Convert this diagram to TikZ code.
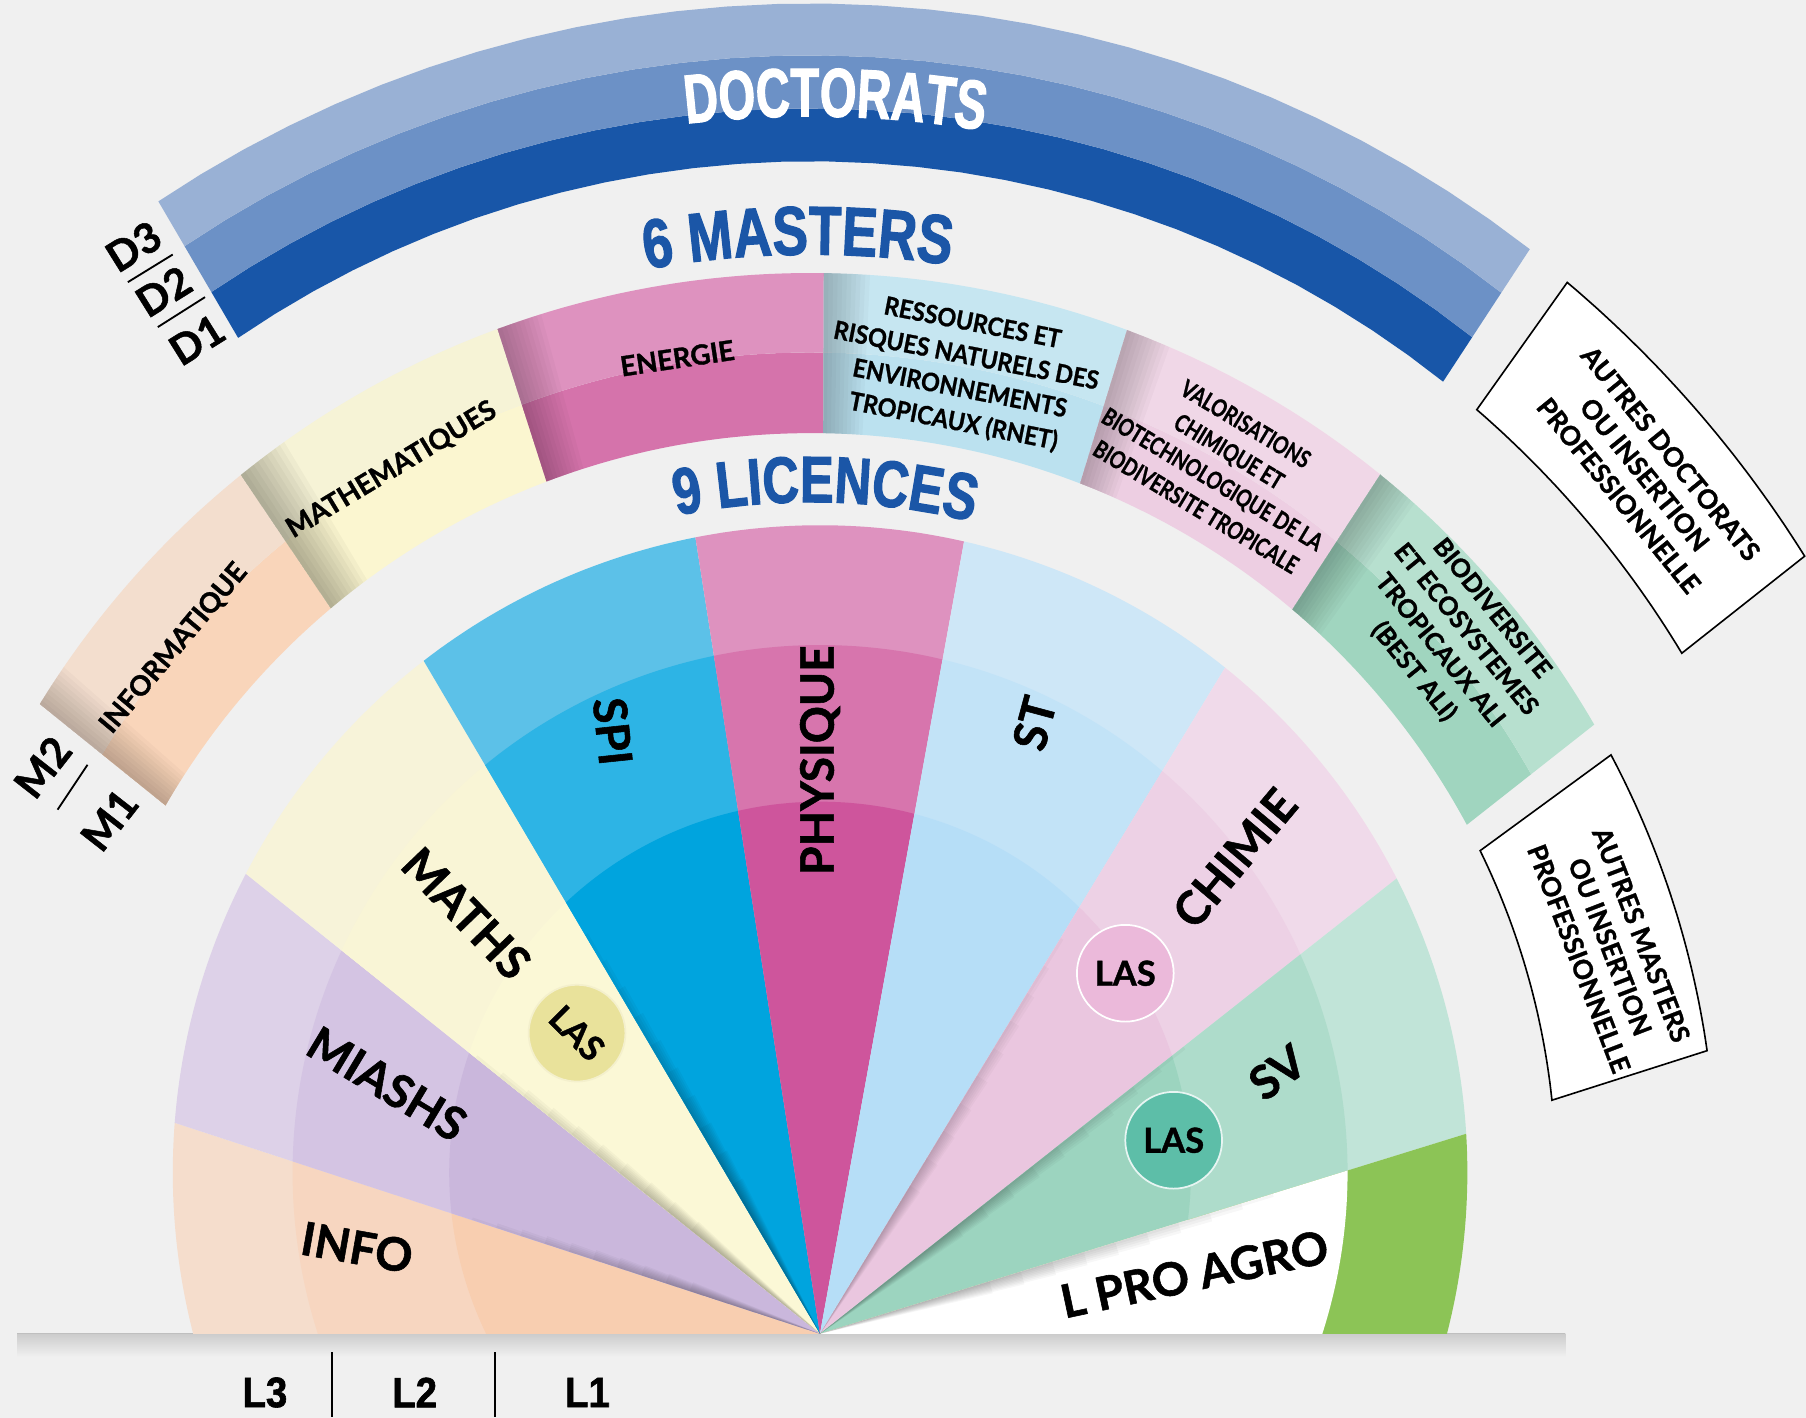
\documentclass[tikz,border=0pt]{standalone}
\usepackage{fontspec}
\setmainfont{Lato}[BoldFeatures={FakeBold=1.2}]
\newfontfamily\condA{Liberation Sans}[FakeStretch=0.68, BoldFeatures={FakeBold=1.6}]
\newfontfamily\condB{Liberation Sans}[FakeStretch=0.77, BoldFeatures={FakeBold=1.6}]
\newfontfamily\condC{Liberation Sans}[FakeStretch=0.9, BoldFeatures={FakeBold=1.4}]
\newfontfamily\mfont{Lato}[FakeStretch=0.92, BoldFeatures={FakeBold=1}]
\newfontfamily\vfont{Lato}[FakeStretch=0.78, BoldFeatures={FakeBold=1}]
\usetikzlibrary{decorations.text}

\definecolor{bg}{RGB}{240,240,240}
\definecolor{dOne}{RGB}{24,86,168}
\definecolor{dTwo}{RGB}{108,145,198}
\definecolor{dThree}{RGB}{153,177,213}
\definecolor{tblue}{RGB}{27,86,167}
% masters
\definecolor{infoMa}{RGB}{249,213,186}\definecolor{infoMb}{RGB}{243,222,206}
\definecolor{mathMa}{RGB}{251,246,208}\definecolor{mathMb}{RGB}{246,243,214}
\definecolor{enerMa}{RGB}{213,115,171}\definecolor{enerMb}{RGB}{222,146,191}
\definecolor{rnetMa}{RGB}{187,225,239}\definecolor{rnetMb}{RGB}{198,230,241}
\definecolor{valoMa}{RGB}{237,206,226}\definecolor{valoMb}{RGB}{240,215,231}
\definecolor{bestMa}{RGB}{160,213,191}\definecolor{bestMb}{RGB}{183,224,207}
% licences
\definecolor{infoA}{RGB}{248,206,176}\definecolor{infoB}{RGB}{247,214,192}\definecolor{infoC}{RGB}{245,221,204}
\definecolor{miaA}{RGB}{202,183,220}\definecolor{miaB}{RGB}{212,196,227}\definecolor{miaC}{RGB}{221,209,232}
\definecolor{matA}{RGB}{251,248,214}\definecolor{matB}{RGB}{249,245,214}\definecolor{matC}{RGB}{247,243,217}
\definecolor{spiA}{RGB}{0,164,222}\definecolor{spiB}{RGB}{45,180,229}\definecolor{spiC}{RGB}{92,193,232}
\definecolor{phyA}{RGB}{206,85,156}\definecolor{phyB}{RGB}{215,117,173}\definecolor{phyC}{RGB}{222,146,191}
\definecolor{stA}{RGB}{182,222,247}\definecolor{stB}{RGB}{194,227,247}\definecolor{stC}{RGB}{206,231,247}
\definecolor{chiA}{RGB}{234,198,223}\definecolor{chiB}{RGB}{237,209,229}\definecolor{chiC}{RGB}{240,218,234}
\definecolor{svA}{RGB}{156,212,191}\definecolor{svB}{RGB}{174,220,203}\definecolor{svC}{RGB}{193,228,216}
\definecolor{lproC}{RGB}{140,196,86}
\definecolor{lasY}{RGB}{233,226,155}
\definecolor{lasP}{RGB}{235,185,218}
\definecolor{lasG}{RGB}{93,190,168}

% distance from the apex, along the ray at angle #1, to the circle of radius #2 centred at (-8,135)
\pgfmathdeclarefunction{rr}{2}{%
  \begingroup
  \pgfmathparse{-0.08*cos(#1)+1.35*sin(#1)}\let\rrca\pgfmathresult
  \pgfmathparse{100*(\rrca+sqrt((#2/100)^2-1.8289+\rrca*\rrca))}%
  \pgfmathsmuggle\pgfmathresult
  \endgroup}
% same for the licence fan, circles centred at (0,140)
\pgfmathdeclarefunction{rf}{2}{%
  \begingroup
  \pgfmathparse{1.4*sin(#1)}\let\rrca\pgfmathresult
  \pgfmathparse{100*(\rrca+sqrt((#2/100)^2-1.96+\rrca*\rrca))}%
  \pgfmathsmuggle\pgfmathresult
  \endgroup}

\newcommand\ringsec[5]{\fill[#5] plot[domain=#1:#2,samples=30] (\x:{rr(\x,#4)}) -- plot[domain=#2:#1,samples=30] (\x:{rr(\x,#3)}) -- cycle;}
\newcommand\ringbox[4]{\filldraw[fill=white,draw=black,line width=1.4pt,line join=miter] plot[domain=#1:#2,samples=30] (\x:{rr(\x,#4)}) -- plot[domain=#2:#1,samples=30] (\x:{rr(\x,#3)}) -- cycle;}
\newcommand\fansec[5]{%
  \fill[#3] (0,0) -- plot[domain=#1:#2,samples=30] (\x:{rf(\x,562)}) -- cycle;
  \fill[#4] (0,0) -- plot[domain=#1:#2,samples=30] (\x:{rf(\x,458)}) -- cycle;
  \fill[#5] (0,0) -- plot[domain=#1:#2,samples=30] (\x:{rf(\x,322)}) -- cycle;}
\newcommand\ringshade[5]{%
  \foreach \k in {1,...,10}{%
    \pgfmathsetmacro\shth{#1-#4*\k/10}%
    \fill[black,fill opacity=#5] plot[domain=\shth:#1,samples=5] (\x:{rr(\x,#3)}) -- plot[domain=#1:\shth,samples=5] (\x:{rr(\x,#2)}) -- cycle;}}
\newcommand\fanshade[4]{%
  \foreach \k in {1,...,10}{%
    \pgfmathsetmacro\shth{#1-#2*\k/10}%
    \pgfmathsetmacro\shr{#3*(1-0.065*\k)}%
    \fill[black,fill opacity=#4] (0,0) -- (\shth:\shr) -- (#1:\shr) -- cycle;}}

\begin{document}
\begin{tikzpicture}[x=1pt,y=1pt,
  fanlab/.style={font=\fontsize{40}{40}\selectfont\bfseries, inner sep=0pt},
  maslab/.style={font=\fontsize{24}{29}\selectfont\bfseries, inner sep=0pt, align=center},
  rnetlab/.style={font=\mfont\fontsize{22}{29}\selectfont\bfseries, inner sep=0pt, align=center},
  valolab/.style={font=\vfont\fontsize{21}{28}\selectfont\bfseries, inner sep=0pt, align=center},
  bestlab/.style={font=\fontsize{22}{29}\selectfont\bfseries, inner sep=0pt, align=center},
  autlab/.style={font=\fontsize{23}{29}\selectfont\bfseries, inner sep=0pt, align=center},
  levlab/.style={font=\fontsize{36}{36}\selectfont\bfseries, inner sep=0pt},
  Llab/.style={font=\condC\fontsize{37}{37}\selectfont\bfseries, inner sep=0pt},
  lascirc/.style={circle, minimum size=84pt, inner sep=0pt, draw=white, line width=1.5pt, font=\fontsize{30}{30}\selectfont\bfseries},
  seprule/.style={line width=1.6pt, black}
]
\useasboundingbox (-712,-73) rectangle (856,1158);
\fill[bg] (-712,-73) rectangle (856,1158);
\coordinate (C) at (-8,135);
\coordinate (apex) at (0,0);

% ground shadow
\shade[top color=black!20, bottom color=bg] (-697,-20) rectangle (647,0);
\draw[black!25, line width=1pt] (-697,0) -- (647,0);

% ---------- doctorats band
\ringsec{56.8}{120.3}{883}{929}{dOne}
\ringsec{56.8}{120.3}{929}{975}{dTwo}
\ringsec{56.8}{120.3}{975}{1020}{dThree}
\path[decorate, decoration={text along path, text align=center, text color=white,
  text={|\fontsize{60}{60}\condA\bfseries|DOCTORATS}}]
  ([shift={(-8,135)}]128.7:922) arc[start angle=128.7, end angle=48.7, radius=922];

% autres doctorats box
\ringbox{38.3}{54.6}{883}{1018}
\node[autlab, rotate=-51] (autresdoc) at (716,746) {AUTRES DOCTORATS\\OU INSERTION\\PROFESSIONNELLE};

% ---------- masters ring
\ringsec{124}{141.1}{647}{717}{infoMa}\ringsec{124}{141.1}{717}{786}{infoMb}
\ringsec{107.8}{124}{647}{717}{mathMa}\ringsec{107.8}{124}{717}{786}{mathMb}
\ringsec{89.8}{107.8}{647}{717}{enerMa}\ringsec{89.8}{107.8}{717}{786}{enerMb}
\ringsec{73}{89.8}{647}{717}{rnetMa}\ringsec{73}{89.8}{717}{786}{rnetMb}
\ringsec{56.9}{73}{647}{717}{valoMa}\ringsec{56.9}{73}{717}{786}{valoMb}
\ringsec{38.2}{56.9}{647}{717}{bestMa}\ringsec{38.2}{56.9}{717}{786}{bestMb}
\ringshade{141.1}{647}{786}{2.5}{0.022}
\ringshade{124}{647}{786}{3}{0.032}
\ringshade{107.8}{647}{786}{2.5}{0.022}
\ringshade{89.8}{647}{786}{2.5}{0.022}
\ringshade{73}{647}{786}{2.5}{0.022}
\ringshade{56.9}{647}{786}{2.5}{0.022}

\node[maslab, rotate=50] (informatique) at (-561,595) {INFORMATIQUE};
\node[maslab, rotate=31] (mathematiques) at (-372,750) {MATHEMATIQUES};
\node[maslab, rotate=8.5] (energie) at (-124,847) {ENERGIE};
\node[rnetlab, rotate=-11] (rnet) at (124,834) {RESSOURCES ET\\RISQUES NATURELS DES\\ENVIRONNEMENTS\\TROPICAUX (RNET)};
\node[valolab, rotate=-31] (valor) at (348,754) {VALORISATIONS\\CHIMIQUE ET\\BIOTECHNOLOGIQUE DE LA\\BIODIVERSITE TROPICALE};
\node[bestlab, rotate=-51] (best) at (549,602) {BIODIVERSITE\\ET ECOSYSTEMES\\TROPICAUX ALI\\(BEST ALI)};

\path[decorate, decoration={text along path, text align=center, text color=tblue,
  text={|\fontsize{60}{60}\condB\bfseries|6 MASTERS}}]
  ([shift={(-8,135)}]130.8:802) arc[start angle=130.8, end angle=50.8, radius=802];

% autres masters box
\ringbox{17.7}{36.2}{647}{786}
\node[autlab, rotate=-69] (autresmas) at (686,336) {AUTRES MASTERS\\OU INSERTION\\PROFESSIONNELLE};

% ---------- licences fan
\fansec{161.9}{180}{infoC}{infoB}{infoA}
\fansec{141.3}{161.9}{miaC}{miaB}{miaA}
\fansec{120.5}{141.3}{matC}{matB}{matA}
\fansec{98.9}{120.5}{spiC}{spiB}{spiA}
\fansec{79.7}{98.9}{phyC}{phyB}{phyA}
\fansec{58.7}{79.7}{stC}{stB}{stA}
\fansec{38.3}{58.7}{chiC}{chiB}{chiA}
\fansec{17.2}{38.3}{svC}{svB}{svA}
\fansec{0}{17.2}{lproC}{white}{white}
\fanshade{161.9}{4}{340}{0.03}
\fanshade{141.3}{4}{410}{0.03}
\fanshade{120.5}{4}{430}{0.035}
\fanshade{58.7}{4}{430}{0.025}
\fanshade{38.3}{4}{430}{0.03}
\fanshade{17.2}{4}{440}{0.03}

\path[decorate, decoration={text along path, text align=center, text color=tblue,
  text={|\fontsize{57}{57}\condB\bfseries|9 LICENCES}}]
  ([shift={(-8,135)}]128.8:587) arc[start angle=128.8, end angle=48.8, radius=587];

\node[fanlab, rotate=-10] (info) at (-402,75) {INFO};
\node[fanlab, rotate=-31] (miashs) at (-376,217) {MIASHS};
\node[fanlab, rotate=-46] (maths) at (-307,365) {MATHS};
\node[fanlab, rotate=-84] (spi) at (-180,523) {SPI};
\node[fanlab, rotate=90] (physique) at (0,498) {PHYSIQUE};
\node[fanlab, rotate=75] (st) at (186,530) {ST};
\node[fanlab, rotate=50] (chimie) at (360,413) {CHIMIE};
\node[fanlab, rotate=36] (sv) at (397,227) {SV};
\node[fanlab, rotate=12] (lpro) at (325,52) {L PRO AGRO};

\node[lascirc, fill=lasY, draw=lasY!50!white, rotate=-45] (lasmaths) at (-211,261) {LAS};
\node[lascirc, fill=lasP] (laschimie) at (265,313) {LAS};
\node[lascirc, fill=lasG, draw=white!85!lasG] (lassv) at (307,168) {LAS};

% ---------- level labels
\node[levlab, rotate=32] (d3) at (-596,944) {D3};
\node[levlab, rotate=32] (d2) at (-570,905) {D2};
\node[levlab, rotate=32] (d1) at (-541,863) {D1};
\coordinate (dsa) at (-601,913); \coordinate (dsb) at (-562,937);
\coordinate (dsc) at (-575,874); \coordinate (dsd) at (-534,900);
\draw[seprule] (dsa) -- (dsb);
\draw[seprule] (dsc) -- (dsd);

\node[levlab, rotate=52] (m2) at (-675,492) {M2};
\node[levlab, rotate=52] (m1) at (-617,446) {M1};
\coordinate (msa) at (-636,494); \coordinate (msb) at (-662,455);
\draw[seprule] (msa) -- (msb);

\node[Llab] (l3) at (-482,-51) {L3};
\node[Llab] (l2) at (-352,-51) {L2};
\node[Llab] (l1) at (-202,-51) {L1};
\coordinate (lsa) at (-424,-16); \coordinate (lsb) at (-424,-72);
\coordinate (lsc) at (-282,-16); \coordinate (lsd) at (-282,-72);
\draw[seprule] (lsa) -- (lsb);
\draw[seprule] (lsc) -- (lsd);
\end{tikzpicture}
\end{document}
